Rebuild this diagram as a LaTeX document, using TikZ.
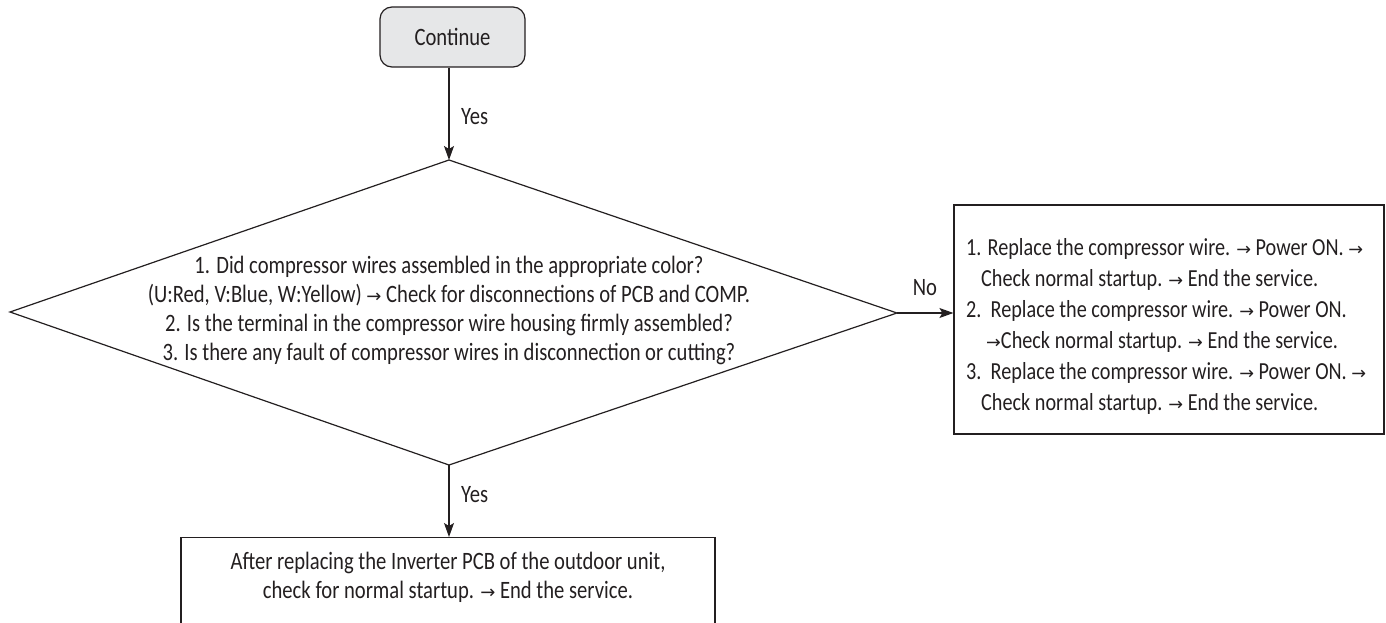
\documentclass[tikz,border=0pt]{standalone}
\usepackage{fontspec}
\setmainfont{Carlito}[FakeStretch=0.825]
\newfontfamily\arrfont{DejaVu Sans}[Scale=0.72]
\newcommand\rarw{{\arrfont →}}
\usetikzlibrary{arrows.meta}
\definecolor{lc}{HTML}{231F20}
\definecolor{contfill}{HTML}{E6E7E8}
\tikzset{
  conn/.style={draw=lc, line width=1.2pt, -{Stealth[length=14pt,width=10pt,inset=3pt]}},
  boxshape/.style={draw=lc, line width=1.2pt, rectangle, inner sep=0pt},
  txt/.style={text=lc, inner sep=0pt},
}
\begin{document}
\begin{tikzpicture}[x=1pt,y=-1pt,font=\fontsize{25}{29}\selectfont]
\useasboundingbox (0,0) rectangle (1386,623);
% start
\node[boxshape, rounded corners=12pt, fill=contfill, minimum width=145pt, minimum height=60pt] (cont) at (452.5,37) {};
\node[txt] (conttxt) at (cont.center) {Continue};
% diamond
\coordinate (dT) at (449,160);
\coordinate (dR) at (897,313);
\coordinate (dB) at (449,465);
\coordinate (dL) at (10,312);
\draw[lc, line width=1.2pt] (dT) -- (dR) -- (dB) -- (dL) -- cycle;
\node[txt, align=center] (dtext) at (449,310) {1. Did compressor wires assembled in the appropriate color?\\(U:Red, V:Blue, W:Yellow) \rarw{} Check for disconnections of PCB and COMP.\\2. Is the terminal in the compressor wire housing firmly assembled?\\3. Is there any fault of compressor wires in disconnection or cutting?};
% right box
\node[boxshape, minimum width=430pt, minimum height=229pt] (rbox) at (1169,319.5) {};
\node[txt, align=left, anchor=west, font=\fontsize{24.5}{31}\selectfont] (rtext) at (966,326) {1. Replace the compressor wire. \rarw{} Power ON. \rarw\\
\hspace*{15pt}Check normal startup. \rarw{} End the service.\\
2.\ \ Replace the compressor wire. \rarw{} Power ON.\\
\hspace*{20pt}\rarw Check normal startup. \rarw{} End the service.\\
3.\ \ Replace the compressor wire. \rarw{} Power ON. \rarw\\
\hspace*{15pt}Check normal startup. \rarw{} End the service.};
% bottom box
\node[boxshape, minimum width=534pt, minimum height=110pt, anchor=north] (bot) at (448,537) {};
\node[txt, align=center] (bottxt) at (448,577) {After replacing the Inverter PCB of the outdoor unit,\\check for normal startup. \rarw{} End the service.};
% connectors
\draw[conn] (cont.south -| dT) -- (dT);
\draw[conn] (dR) -- (dR -| rbox.west);
\draw[conn] (dB) -- (bot.north -| dB);
% labels
\node[txt, anchor=west] (yes1) at (461,117) {Yes};
\node[txt, anchor=west] (yes2) at (461,495) {Yes};
\node[txt] (no) at (925,288) {No};
\end{tikzpicture}
\end{document}
